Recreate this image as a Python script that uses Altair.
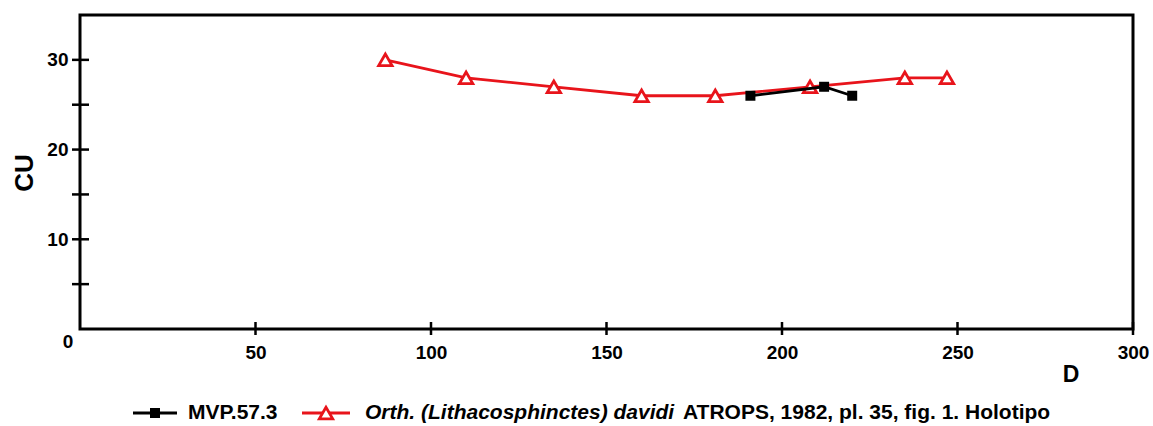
import altair as alt
import pandas as pd

# Measurements: diameter D vs. CU
mvp_d = [191, 212, 220]
mvp_cu = [26, 27, 26]
holo_d = [87, 110, 135, 160, 181, 208, 235, 247]
holo_cu = [30, 28, 27, 26, 26, 27, 28, 28]

x_ticks = [50, 100, 150, 200, 250, 300]
y_ticks = [5, 10, 15, 20, 25, 30]
y_labels = [10, 20, 30]

FONT = "Liberation Sans"
W, H = 1053, 314
TICK_FS = 19

mvp = pd.DataFrame({"D": mvp_d, "CU": mvp_cu})
holo = pd.DataFrame({"D": holo_d, "CU": holo_cu})

xs = alt.Scale(domain=[0, 300], nice=False, zero=False)
ys = alt.Scale(domain=[0, 35], nice=False, zero=False)

x_axis = alt.Axis(values=x_ticks, title=None, domain=False, ticks=False, tickSize=0,
                  grid=False, labelPadding=14, labelFontSize=TICK_FS, labelFontWeight="bold",
                  labelFont=FONT, labelColor="black", labelFlush=False, labelOverlap=False)
y_axis = alt.Axis(values=y_labels, title=None, domain=False, ticks=False, tickSize=0,
                  grid=False, labelPadding=12, labelFontSize=TICK_FS, labelFontWeight="bold",
                  labelFont=FONT, labelColor="black", labelOverlap=False)

base_axes = alt.Chart(pd.DataFrame({"D": [0], "CU": [0]})).mark_point(opacity=0).encode(
    x=alt.X("D:Q", scale=xs, axis=x_axis),
    y=alt.Y("CU:Q", scale=ys, axis=y_axis),
)

# ticks that cross the axis lines
xtick_rules = alt.Chart(pd.DataFrame({"D": x_ticks})).mark_rule(color="black", strokeWidth=2.5).encode(
    x=alt.X("D:Q", scale=xs), y=alt.value(H - 7), y2=alt.value(H + 6)
)
ytick_rules = alt.Chart(pd.DataFrame({"CU": y_ticks})).mark_rule(color="black", strokeWidth=2.5).encode(
    y=alt.Y("CU:Q", scale=ys), x=alt.value(-8), x2=alt.value(9)
)

holo_line = alt.Chart(holo).mark_line(color="#e8141b", strokeWidth=2.8).encode(
    x=alt.X("D:Q", scale=xs), y=alt.Y("CU:Q", scale=ys)
)
holo_pts = alt.Chart(holo).mark_point(shape="triangle-up", size=180, filled=False, fill="white",
                                      fillOpacity=1, color="#e8141b", strokeWidth=2.8, opacity=1).encode(
    x=alt.X("D:Q", scale=xs), y=alt.Y("CU:Q", scale=ys)
)
mvp_line = alt.Chart(mvp).mark_line(color="black", strokeWidth=2.8).encode(
    x=alt.X("D:Q", scale=xs), y=alt.Y("CU:Q", scale=ys)
)
mvp_pts = alt.Chart(mvp).mark_point(shape="square", size=100, filled=True, color="black", opacity=1).encode(
    x=alt.X("D:Q", scale=xs), y=alt.Y("CU:Q", scale=ys)
)

one = pd.DataFrame({"k": [0]})


def txt(text, x, y, size, align="center", angle=0, style="normal", weight="bold"):
    kw = dict(text=text, fontSize=size, font=FONT, fontWeight=weight, fontStyle=style,
              align=align, baseline="middle", color="black")
    if angle:
        kw["angle"] = angle
    return alt.Chart(one).mark_text(**kw).encode(x=alt.value(x), y=alt.value(y))


zero_lbl = txt("0", -12, 327, TICK_FS)
cu_title = txt("CU", -55, 158, 26, angle=270)
d_title = txt("D", 991, 360, 23)

# legend drawn by hand (mixed italic / upright text)
LY = 398
leg_black_line = alt.Chart(one).mark_rule(color="black", strokeWidth=2.8).encode(
    x=alt.value(53), x2=alt.value(97), y=alt.value(LY))
leg_black_pt = alt.Chart(one).mark_point(shape="square", size=100, filled=True, color="black", opacity=1).encode(
    x=alt.value(75), y=alt.value(LY))
leg_red_line = alt.Chart(one).mark_rule(color="#e8141b", strokeWidth=2.8).encode(
    x=alt.value(222), x2=alt.value(270), y=alt.value(LY))
leg_red_pt = alt.Chart(one).mark_point(shape="triangle-up", size=180, filled=False, fill="white",
                                       fillOpacity=1, color="#e8141b", strokeWidth=2.8, opacity=1).encode(
    x=alt.value(246), y=alt.value(LY))
leg_t1 = txt("MVP.57.3", 108, LY, 21, align="left")
leg_t2 = txt("Orth. (Lithacosphinctes) davidi", 285, LY, 21, align="left", style="italic")
leg_t3 = txt("ATROPS, 1982, pl. 35, fig. 1. Holotipo", 603, LY, 21, align="left")

chart = alt.layer(
    base_axes, xtick_rules, ytick_rules,
    holo_line, holo_pts, mvp_line, mvp_pts,
    zero_lbl, cu_title, d_title,
    leg_black_line, leg_black_pt, leg_red_line, leg_red_pt, leg_t1, leg_t2, leg_t3,
).properties(
    width=W, height=H,
    autosize=alt.AutoSizeParams(type="none"),
    padding={"left": 80, "top": 15, "right": 20, "bottom": 97},
    background="white",
).configure_view(stroke="black", strokeWidth=3)

chart.save("out.html", embed_options={"renderer": "svg", "actions": False})
